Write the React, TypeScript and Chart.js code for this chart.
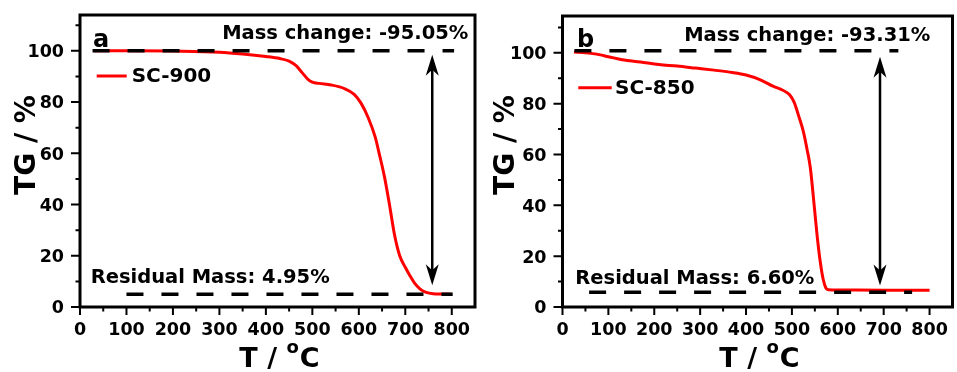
import React, { useEffect, useRef } from "react";
import { Chart, registerables } from "chart.js";
Chart.register(...registerables);

const FONT = "'DejaVu Sans', sans-serif";

// ---------- shared axes ----------
const X_TICKS = [0, 100, 200, 300, 400, 500, 600, 700, 800];
const X_MINOR = [50, 150, 250, 350, 450, 550, 650, 750];
const Y_TICKS = [0, 20, 40, 60, 80, 100];
const Y_MINOR = [10, 30, 50, 70, 90, 110];
const X_MAX = 850;
const X_TITLE_MAIN = "T / ";
const X_TITLE_SUP = "o";
const X_TITLE_END = "C";
const Y_TITLE = "TG / %";

// ---------- panel a : SC-900 ----------
const T_SC900 = [30, 100, 200, 300, 350, 400, 430, 450, 465, 478, 490, 500, 515, 540, 570, 590, 605, 620, 635, 645, 655, 665, 677, 688, 700, 710, 720, 732, 745, 760, 800];
const TG_SC900 = [100, 100, 99.9, 99.5, 98.8, 97.8, 97, 96, 94.2, 91.5, 89, 87.8, 87.3, 86.7, 85.2, 83, 79.5, 74, 66.5, 59, 51, 41, 28, 20, 15.5, 12.2, 9.3, 7, 5.7, 5.2, 5];
const TOP_DASH_X_A = [27, 805];
const TOP_DASH_Y_A = 100;
const BOTTOM_DASH_X_A = [100, 802];
const BOTTOM_DASH_Y_A = 5;
const ARROW_A = { x: 758, from: 98.5, to: 8.5 };
const MASS_CHANGE_A = "Mass change: -95.05%";
const RESIDUAL_A = "Residual Mass: 4.95%";

// ---------- panel b : SC-850 ----------
const T_SC850 = [25, 50, 70, 100, 130, 170, 210, 250, 290, 330, 370, 400, 430, 460, 480, 495, 505, 515, 525, 533, 540, 548, 555, 562, 568, 574, 580, 600, 700, 800];
const TG_SC850 = [100.3, 100, 99.6, 98.5, 97.3, 96.4, 95.4, 94.8, 94, 93.2, 92.3, 91.3, 89.5, 86.8, 85.3, 83.5, 80.5, 75, 69, 62, 55, 41, 28, 17.5, 11, 7.5, 6.8, 6.7, 6.6, 6.6];
const TOP_DASH_X_B = [26, 732];
const TOP_DASH_Y_B = 100.8;
const BOTTOM_DASH_X_B = [58, 762];
const BOTTOM_DASH_Y_B = 5.8;
const ARROW_B = { x: 692, from: 98.5, to: 8.5 };
const MASS_CHANGE_B = "Mass change: -93.31%";
const RESIDUAL_B = "Residual Mass: 6.60%";

type Panel = {
  letter: string;
  name: string;
  temps: number[];
  masses: number[];
  topX: number[];
  topY: number;
  botX: number[];
  botY: number;
  arrow: { x: number; from: number; to: number };
  massChange: string;
  residual: string;
  left: number;
  width: number;
  yWidth: number;
  padRight: number;
  padTop: number;
  yMax: number;
  letterDx: number;
  letterDy: number;
  mcRight: number;
  mcDy: number;
  resDx: number;
  resDy: number;
  legX0: number;
  legX1: number;
  legDy: number;
  legTextDx: number;
  yTitleX: number;
};

const PANELS: Panel[] = [
  {
    letter: "a", name: "SC-900", temps: T_SC900, masses: TG_SC900,
    topX: TOP_DASH_X_A, topY: TOP_DASH_Y_A, botX: BOTTOM_DASH_X_A, botY: BOTTOM_DASH_Y_A,
    arrow: ARROW_A, massChange: MASS_CHANGE_A, residual: RESIDUAL_A,
    left: 0, width: 478, yWidth: 80, padRight: 3, padTop: 15, yMax: 114,
    letterDx: 13, letterDy: 31.5, mcRight: 6.7, mcDy: 24.3, resDx: 10.7, resDy: 24.5,
    legX0: 16.7, legX1: 46.7, legDy: 61, legTextDx: 51.7, yTitleX: 35,
  },
  {
    letter: "b", name: "SC-850", temps: T_SC850, masses: TG_SC850,
    topX: TOP_DASH_X_B, topY: TOP_DASH_Y_B, botX: BOTTOM_DASH_X_B, botY: BOTTOM_DASH_Y_B,
    arrow: ARROW_B, massChange: MASS_CHANGE_B, residual: RESIDUAL_B,
    left: 478, width: 479, yWidth: 84.5, padRight: 4.5, padTop: 16, yMax: 114.5,
    letterDx: 14.5, letterDy: 30.7, mcRight: 22.2, mcDy: 24.7, resDx: 12.8, resDy: 22.7,
    legX0: 15.8, legX1: 49.2, legDy: 71.7, legTextDx: 52.5, yTitleX: 36,
  },
];

const H = 372;
const AXIS_BOTTOM = 307;
const TICK_FONT = `bold 17.5px ${FONT}`;

function arrowHead(ctx: CanvasRenderingContext2D, x: number, y: number, dir: number) {
  const len = 21, half = 6.5, notch = 15;
  ctx.beginPath();
  ctx.moveTo(x, y);
  ctx.lineTo(x - half, y - dir * len);
  ctx.lineTo(x, y - dir * notch);
  ctx.lineTo(x + half, y - dir * len);
  ctx.closePath();
  ctx.fill();
}

function makeOverlay(p: Panel) {
  return {
    id: "overlay_" + p.letter,
    afterDraw(chart: any) {
      const { ctx, chartArea: ca, scales } = chart;
      const xs = scales.x, ys = scales.y;
      ctx.save();
      ctx.strokeStyle = "#000";
      ctx.fillStyle = "#000";
      // ticks
      ctx.lineWidth = 2;
      ctx.beginPath();
      X_TICKS.forEach((v) => { const px = xs.getPixelForValue(v); ctx.moveTo(px, ca.bottom); ctx.lineTo(px, ca.bottom + 8); });
      X_MINOR.forEach((v) => { const px = xs.getPixelForValue(v); ctx.moveTo(px, ca.bottom); ctx.lineTo(px, ca.bottom + 4.5); });
      Y_TICKS.forEach((v) => { const py = ys.getPixelForValue(v); ctx.moveTo(ca.left, py); ctx.lineTo(ca.left - 9, py); });
      Y_MINOR.forEach((v) => { const py = ys.getPixelForValue(v); ctx.moveTo(ca.left, py); ctx.lineTo(ca.left - 4.5, py); });
      ctx.stroke();
      // tick labels (positions from the scales)
      ctx.font = TICK_FONT;
      ctx.textBaseline = "alphabetic";
      ctx.textAlign = "center";
      X_TICKS.forEach((v) => { ctx.fillText(String(v), xs.getPixelForValue(v), 335); });
      ctx.textAlign = "right";
      Y_TICKS.forEach((v) => { ctx.fillText(String(v), ca.left - 16, ys.getPixelForValue(v) + 6.4); });
      // frame
      ctx.lineWidth = 3;
      ctx.strokeRect(ca.left, ca.top, ca.right - ca.left, ca.bottom - ca.top);
      // double arrow
      const ax = xs.getPixelForValue(p.arrow.x);
      const ay0 = ys.getPixelForValue(p.arrow.from);
      const ay1 = ys.getPixelForValue(p.arrow.to);
      ctx.lineWidth = 2.5;
      ctx.beginPath();
      ctx.moveTo(ax, ay0 + 12);
      ctx.lineTo(ax, ay1 - 12);
      ctx.stroke();
      arrowHead(ctx, ax, ay0, -1);
      arrowHead(ctx, ax, ay1, 1);
      // texts
      ctx.textBaseline = "alphabetic";
      ctx.font = `bold 24px ${FONT}`;
      ctx.textAlign = "left";
      ctx.fillText(p.letter, ca.left + p.letterDx, ca.top + p.letterDy);
      ctx.font = `bold 19.5px ${FONT}`;
      ctx.textAlign = "right";
      ctx.fillText(p.massChange, ca.right - p.mcRight, ca.top + p.mcDy);
      ctx.textAlign = "left";
      ctx.fillText(p.residual, ca.left + p.resDx, ca.bottom - p.resDy);
      // legend
      const ly = ca.top + p.legDy;
      ctx.strokeStyle = "#ff0000";
      ctx.lineWidth = 3;
      ctx.beginPath();
      ctx.moveTo(ca.left + p.legX0, ly);
      ctx.lineTo(ca.left + p.legX1, ly);
      ctx.stroke();
      ctx.font = `bold 20px ${FONT}`;
      ctx.textBaseline = "middle";
      ctx.fillText(p.name, ca.left + p.legTextDx, ly + 1);
      // y title
      ctx.save();
      ctx.translate(p.yTitleX, 145);
      ctx.rotate(-Math.PI / 2);
      ctx.font = `bold 28px ${FONT}`;
      ctx.textAlign = "center";
      ctx.textBaseline = "alphabetic";
      ctx.fillText(Y_TITLE, 0, 0);
      ctx.restore();
      // x title with superscript o
      const big = `bold 27px ${FONT}`, small = `bold 18px ${FONT}`;
      ctx.textAlign = "left";
      ctx.textBaseline = "alphabetic";
      ctx.font = big;
      const w1 = ctx.measureText(X_TITLE_MAIN).width;
      const w3 = ctx.measureText(X_TITLE_END).width;
      ctx.font = small;
      const w2 = ctx.measureText(X_TITLE_SUP).width + 1;
      let tx = (ca.left + ca.right) / 2 + 2 - (w1 + w2 + w3) / 2;
      const base = 367;
      ctx.font = big;
      ctx.fillText(X_TITLE_MAIN, tx, base);
      tx += w1;
      ctx.font = small;
      ctx.fillText(X_TITLE_SUP, tx, base - 14.5);
      tx += w2;
      ctx.font = big;
      ctx.fillText(X_TITLE_END, tx, base);
      ctx.restore();
    },
  };
}

function PanelChart({ p }: { p: Panel }) {
  const ref = useRef<HTMLCanvasElement | null>(null);
  useEffect(() => {
    if (!ref.current) return;
    const chart = new Chart(ref.current, {
      type: "line",
      data: {
        datasets: [
          {
            label: "top",
            data: p.topX.map((x) => ({ x, y: p.topY })),
            borderColor: "#000",
            borderWidth: 3.5,
            borderDash: [17, 18],
            pointRadius: 0,
          },
          {
            label: "bottom",
            data: p.botX.map((x) => ({ x, y: p.botY })),
            borderColor: "#000",
            borderWidth: 3.5,
            borderDash: [17, 18],
            pointRadius: 0,
          },
          {
            label: p.name,
            data: p.temps.map((x, i) => ({ x, y: p.masses[i] })),
            borderColor: "#ff0000",
            borderWidth: 3,
            pointRadius: 0,
            cubicInterpolationMode: "monotone",
          },
        ],
      },
      options: {
        responsive: false,
        animation: false,
        devicePixelRatio: 1,
        layout: { padding: { left: 0, right: p.padRight, top: p.padTop, bottom: 0 } },
        plugins: { legend: { display: false }, tooltip: { enabled: false } },
        scales: {
          x: {
            type: "linear",
            min: 0,
            max: X_MAX,
            afterBuildTicks: (s: any) => { s.ticks = X_TICKS.map((v) => ({ value: v })); },
            afterFit: (s: any) => { s.height = H - AXIS_BOTTOM; },
            grid: { display: false, drawTicks: false },
            border: { display: false },
            ticks: { display: false },
          },
          y: {
            type: "linear",
            min: 0,
            max: p.yMax,
            afterBuildTicks: (s: any) => { s.ticks = Y_TICKS.map((v) => ({ value: v })); },
            afterFit: (s: any) => { s.width = p.yWidth; },
            grid: { display: false, drawTicks: false },
            border: { display: false },
            ticks: { display: false },
          },
        },
      },
      plugins: [makeOverlay(p)],
    } as any);
    return () => chart.destroy();
  }, [p]);
  return (
    <canvas
      ref={ref}
      width={p.width}
      height={H}
      style={{ position: "absolute", left: p.left, top: 0, width: p.width, height: H }}
    />
  );
}

export default function App() {
  return (
    <div style={{ position: "fixed", left: 0, top: 0, width: 957, height: H, background: "#fff" }}>
      {PANELS.map((p) => (
        <PanelChart key={p.letter} p={p} />
      ))}
    </div>
  );
}
